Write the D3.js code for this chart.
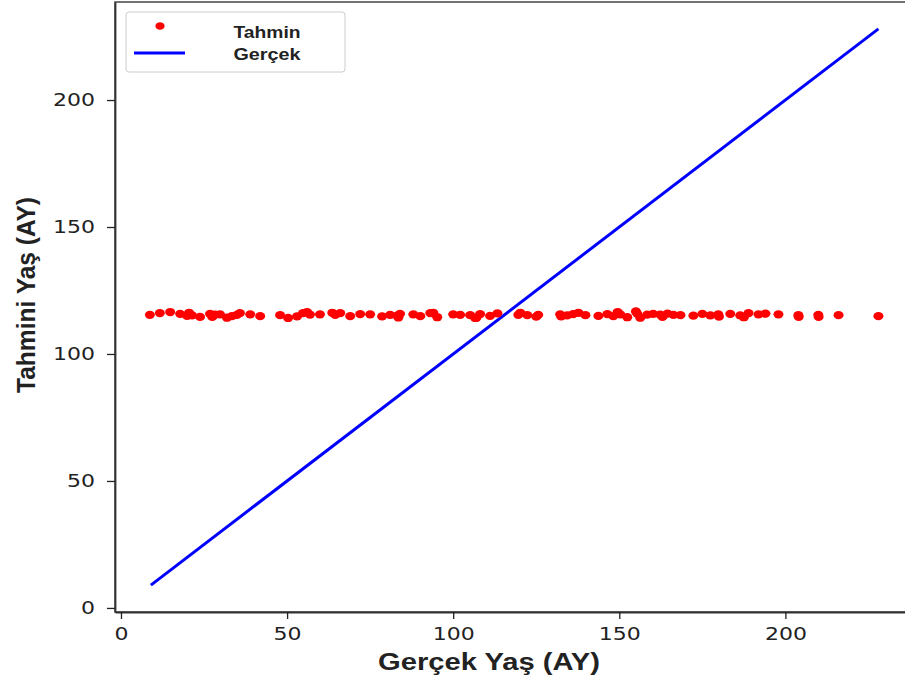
<!DOCTYPE html>
<html>
<head>
<meta charset="utf-8">
<script src="https://cdn.jsdelivr.net/npm/d3@7"></script>
<style>
  body { margin: 0; background: #fff; }
  svg { display: block; }
</style>
</head>
<body>
<svg id="chart" width="905" height="684"></svg>
<script>
const realAge= [8.7, 11.7, 14.8, 17.8, 19.9, 21.4, 23.8, 26.8, 28.3, 29.8, 31.9, 33.4, 34.9, 35.8, 38.9, 41.9,
  47.9, 50.3, 53.0, 54.8, 56.9, 59.9, 63.6, 64.5, 66.0, 69.0, 72.0, 75.0, 78.6, 81.0, 83.1, 84.0,
  88.0, 90.1, 93.1, 95.2, 100.0, 102.1, 105.1, 106.6, 108.1, 111.1, 113.3, 119.6, 120.2, 122.3, 125.6,
  132.2, 134.3, 136.1, 137.7, 139.8, 143.7, 146.4, 148.2, 150.3, 152.4, 155.4, 156.3, 158.4, 160.2,
  162.3, 164.5, 166.3, 168.4, 172.3, 175.0, 177.4, 179.8, 183.4, 186.4, 188.9, 191.9, 194.0, 197.9,
  203.9, 209.9, 216.0, 228.0,
  20.5, 27.5, 56.0, 83.5, 94.0, 107.0, 125.0, 132.5, 149.5, 155.0, 163.0, 180.0, 187.5, 204.0, 210.0];
const predAge= [115.4, 116.1, 116.5, 115.8, 115.0, 115.2, 114.6, 115.8, 115.5, 115.6, 114.3, 114.9, 115.4, 116.1, 115.6, 114.9,
  115.3, 114.2, 114.8, 116.1, 115.5, 115.6, 116.2, 115.4, 116.1, 114.9, 115.7, 115.6, 114.8, 115.4, 115.1, 115.8,
  115.6, 114.9, 116.1, 114.5, 115.6, 115.4, 115.3, 114.2, 115.7, 115.0, 116.0, 115.4, 116.2, 115.3, 115.4,
  115.6, 115.2, 115.7, 116.2, 115.3, 115.0, 115.7, 114.9, 115.6, 114.5, 115.9, 114.3, 115.5, 115.8,
  115.5, 115.9, 115.4, 115.3, 115.1, 115.8, 115.2, 115.6, 115.8, 115.2, 116.1, 115.6, 115.9, 115.6,
  115.3, 115.4, 115.3, 114.9,
  116.2, 114.6, 116.5, 114.4, 116.2, 114.3, 114.7, 114.8, 116.5, 116.7, 114.6, 114.7, 114.5, 114.6, 114.6];
const idealLine= [9, 228];
const xTicks= [0, 50, 100, 150, 200];
const yTicks= [0, 50, 100, 150, 200];
const legendItems= ['Tahmin', 'Gerçek'];

const svg= d3.select('#chart');
const pL= 115, pR= 905, pT= 2, pB= 612;

const x= d3.scaleLinear().domain([-1.8, 236]).range([pL, pR]);
const y= d3.scaleLinear().domain([-1.6, 238.6]).range([pB, pT]);

// frame
svg.append('rect')
  .attr('x', pL).attr('y', pT)
  .attr('width', pR-pL+10).attr('height', pB-pT)
  .attr('fill', 'none').attr('stroke', '#444').attr('stroke-width', 1.5);

const xAxis= svg.append('g')
  .attr('transform', `translate(0,${pB})`)
  .call(d3.axisBottom(x).tickValues(xTicks).tickSize(7).tickSizeOuter(0).tickPadding(8));
const yAxis= svg.append('g')
  .attr('transform', `translate(${pL},0)`)
  .call(d3.axisLeft(y).tickValues(yTicks).tickSize(8).tickSizeOuter(0).tickPadding(12));
[xAxis, yAxis].forEach(g => {
  g.select('.domain').attr('stroke', '#333').attr('stroke-width', 1.8);
  g.selectAll('.tick line').attr('stroke', '#222').attr('stroke-width', 1.3);
  // the picture's digits are wider than plain DejaVu, so stretch them
  g.selectAll('.tick text')
    .attr('fill', '#222')
    .attr('textLength', d => String(d).length*14)
    .attr('lengthAdjust', 'spacingAndGlyphs')
    .style('font-family', 'DejaVu Sans, sans-serif')
    .style('font-size', '18px');
});

// ideal line
svg.append('line')
  .attr('x1', x(idealLine[0])).attr('y1', y(idealLine[0]))
  .attr('x2', x(idealLine[1])).attr('y2', y(idealLine[1]))
  .attr('stroke', '#0000ff').attr('stroke-width', 3);

// predictions
svg.append('g').selectAll('ellipse')
  .data(realAge.map((v, i) => [v, predAge[i]]))
  .join('ellipse')
  .attr('cx', d => x(d[0]))
  .attr('cy', d => y(d[1]))
  .attr('rx', 5).attr('ry', 4.2)
  .attr('fill', '#ff0000');

// legend
const lg= svg.append('g');
lg.append('rect')
  .attr('x', 126).attr('y', 12).attr('width', 219).attr('height', 60)
  .attr('rx', 3)
  .attr('fill', '#fff').attr('stroke', '#ccc').attr('stroke-width', 1);
lg.append('ellipse')
  .attr('cx', 160).attr('cy', 26).attr('rx', 4.6).attr('ry', 3.8)
  .attr('fill', '#ff0000');
lg.append('line')
  .attr('x1', 134).attr('x2', 185).attr('y1', 53).attr('y2', 53)
  .attr('stroke', '#0000ff').attr('stroke-width', 3);
lg.selectAll('text.leg')
  .data(legendItems)
  .join('text')
  .attr('class', 'leg')
  .attr('x', 267)
  .attr('y', (d, i) => 38+i*22)
  .attr('text-anchor', 'middle')
  .attr('textLength', 67)
  .attr('lengthAdjust', 'spacingAndGlyphs')
  .style('font-family', 'Liberation Sans, Arial, sans-serif')
  .style('font-weight', 'bold')
  .style('font-size', '16px')
  .attr('fill', '#222')
  .text(d => d);

// axis titles
svg.append('text')
  .attr('x', 489).attr('y', 670)
  .attr('text-anchor', 'middle')
  .attr('textLength', 222)
  .attr('lengthAdjust', 'spacingAndGlyphs')
  .style('font-family', 'Liberation Sans, Arial, sans-serif')
  .style('font-weight', 'bold')
  .style('font-size', '23px')
  .attr('fill', '#222')
  .text('Gerçek Yaş (AY)');

svg.append('text')
  .attr('transform', 'translate(35,295) rotate(-90)')
  .attr('text-anchor', 'middle')
  .attr('textLength', 196)
  .attr('lengthAdjust', 'spacingAndGlyphs')
  .style('font-family', 'Liberation Sans, Arial, sans-serif')
  .style('font-weight', 'bold')
  .style('font-size', '25px')
  .attr('fill', '#222')
  .text('Tahmini Yaş (AY)');
</script>
</body>
</html>
